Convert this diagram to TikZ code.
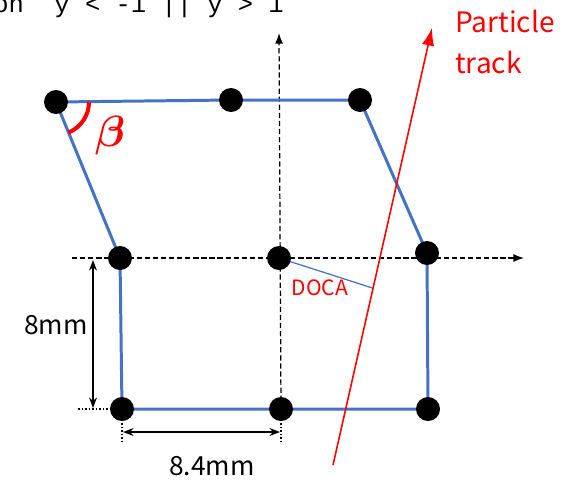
\documentclass[tikz,border=0pt]{standalone}
\usepackage{amsmath}
\usepackage{fontspec}
\setmainfont{Noto Sans CJK SC}
\newfontfamily\cutfont{Liberation Mono}
\usetikzlibrary{arrows.meta,backgrounds}
\definecolor{edgeblue}{RGB}{68,114,196}
\begin{document}
\begin{tikzpicture}[x=0.02cm,y=-0.02cm,
  dot/.style={circle,fill=black,inner sep=0pt,minimum size=0.48cm},
  edge/.style={draw=edgeblue,line width=1.7pt},
  axis/.style={dash pattern=on 3pt off 1.6pt,line width=0.7pt,-{Latex[length=6pt,width=4.5pt]}},
  ext/.style={dash pattern=on 1pt off 1pt,line width=0.6pt},
  dim/.style={line width=0.8pt,{Stealth[length=6pt,width=4.5pt]}-{Stealth[length=6pt,width=4.5pt]}},
  lab/.style={font=\fontsize{15}{17}\selectfont,inner sep=0pt},
  redlab/.style={text=red,inner sep=0pt},
]
\useasboundingbox (0,0) rectangle (567,481);

% nodes
\node[dot] (tl) at (56,102) {};
\node[dot] (tm) at (231,100) {};
\node[dot] (tr) at (360,100) {};
\node[dot] (ml) at (120,258) {};
\node[dot] (mc) at (279,258) {};
\node[dot] (mr) at (427,253) {};
\node[dot] (bl) at (122,409) {};
\node[dot] (bm) at (281,409) {};
\node[dot] (br) at (428,409) {};

\coordinate (vtop) at (279,33);
\coordinate (vbot) at (281,442);
\coordinate (hleft) at (72,258);
\coordinate (hright) at (524,258);
\coordinate (blext) at (78,409);
\coordinate (blbot) at (122,442);
\coordinate (ts) at (333,465);
\coordinate (te) at (432,28);
\coordinate (foot) at (372.5,288);
\coordinate (dvt) at (93,260);
\coordinate (dvb) at (93,408);
\coordinate (dhl) at (123,432);
\coordinate (dhr) at (280,432);

\begin{pgfonlayer}{background}
  \draw[axis] (bm.center) -- (vtop);
  \draw[ext] (bm.center) -- (vbot);
  \draw[axis] (hleft) -- (hright);
  \draw[ext] (blext) -- (bl.center);
  \draw[ext] (bl.center) -- (blbot);
  \draw[edge] (tl.center) -- (tm.center) -- (tr.center) -- (mr.center) -- (br.center) -- (bm.center) -- (bl.center) -- (ml.center) -- cycle;
  \draw[draw=edgeblue,line width=0.7pt] (mc.center) -- (foot);
\end{pgfonlayer}

% track
\draw[red,line width=0.9pt,-{Latex[length=10pt,width=7pt]}] (ts) -- (te);

% dimensions
\draw[dim] (dvt) -- (dvb);
\draw[dim] (dhl) -- (dhr);

% beta angle
\draw[red,line width=2.3pt] ([xshift=33*0.02cm]tl.center) arc[start angle=0,end angle=68,radius=33];
\node[text=red,font=\fontsize{24}{26}\selectfont] (beta) at (110,136) {$\boldsymbol{\beta}$};

% labels
\node[lab] (l8) at (56,325) {8mm};
\node[lab] (l84) at (212,466) {8.4mm};
\node[redlab,font=\fontsize{12}{14}\selectfont] (doca) at (320,288) {DOCA};
\node[redlab,font=\fontsize{16}{23}\selectfont,align=left,anchor=north west] (pt) at (455,10) {Particle\\track};

% cut-off heading (only its lower part lies inside the picture)
\node[anchor=base west,inner sep=0pt,font=\cutfont\fontsize{14.5}{16}\selectfont] (cut) at (-7,12) {on\ \ y < -1 || y > 1};
\end{tikzpicture}
\end{document}
